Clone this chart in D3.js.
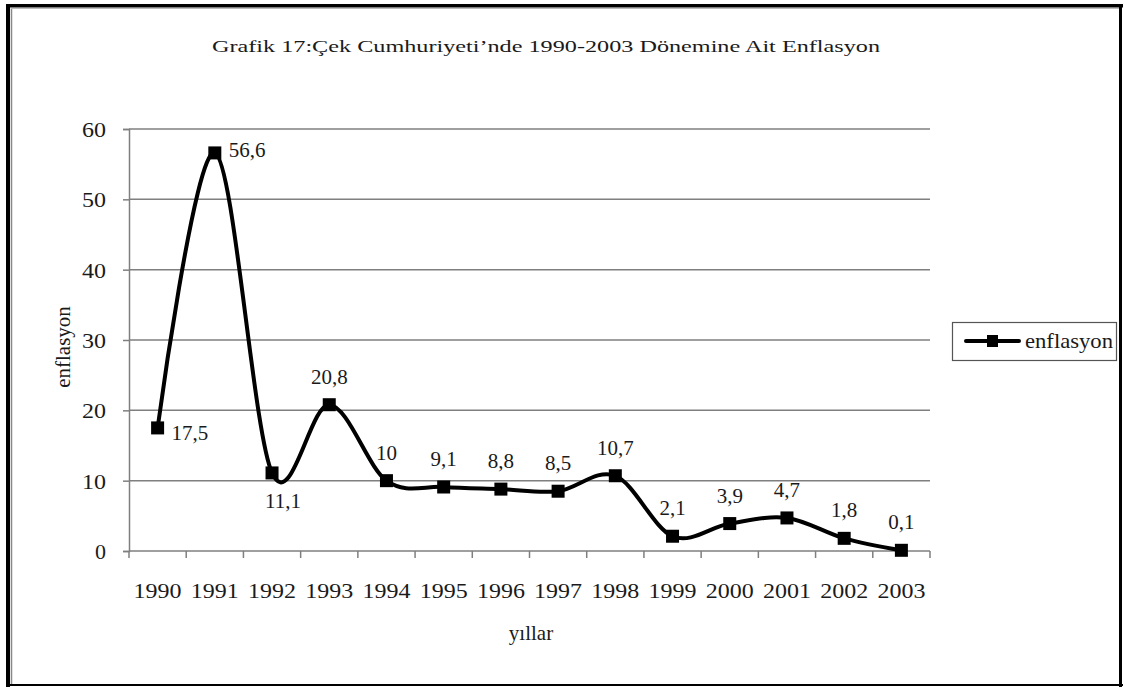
<!DOCTYPE html>
<html><head><meta charset="utf-8">
<script src="https://cdn.jsdelivr.net/npm/d3@7"></script>
<style>
html,body{margin:0;padding:0;background:#fff;}
svg text{font-family:"Liberation Serif","Tinos","Times New Roman","DejaVu Serif",serif !important;fill:#1a1a1a;}
</style></head>
<body>
<svg id="chart" width="1125" height="687"></svg>
<script>
const years = ["1990","1991","1992","1993","1994","1995","1996","1997","1998","1999","2000","2001","2002","2003"];
const inflation = [17.5,56.6,11.1,20.8,10,9.1,8.8,8.5,10.7,2.1,3.9,4.7,1.8,0.1];
const valueLabels = ["17,5","56,6","11,1","20,8","10","9,1","8,8","8,5","10,7","2,1","3,9","4,7","1,8","0,1"];
const yTicks = [0,10,20,30,40,50,60];
const titleText = "Grafik 17:Çek Cumhuriyeti’nde 1990-2003 Dönemine Ait Enflasyon";
const seriesName = "enflasyon";
const xTitle = "yıllar";
const yTitle = "enflasyon";

const FONT = "'Liberation Serif', Tinos, 'Times New Roman', 'DejaVu Serif', serif";
const svg = d3.select("#chart");
const W = 1125, H = 687;
const plot = {left:129, right:930, top:129, bottom:551};

// outer frame
svg.append("rect").attr("x",0).attr("y",0).attr("width",W).attr("height",H).attr("fill","#fff");
svg.append("rect").attr("x",6).attr("y",4).attr("width",4).attr("height",H-4).attr("fill","#000");
svg.append("rect").attr("x",6).attr("y",4).attr("width",W-8).attr("height",3.5).attr("fill","#000");
svg.append("line").attr("x1",11.5).attr("x2",11.5).attr("y1",8).attr("y2",H-3).attr("stroke","#888").attr("stroke-width",1.5);
svg.append("line").attr("x1",11).attr("x2",W-6).attr("y1",8.5).attr("y2",8.5).attr("stroke","#bbb").attr("stroke-width",1);
svg.append("rect").attr("x",W-6).attr("y",4).attr("width",3).attr("height",H-4).attr("fill","#000");
svg.append("rect").attr("x",6).attr("y",H-3).attr("width",W-8).attr("height",2).attr("fill","#000");

const x = d3.scaleBand().domain(years).range([plot.left, plot.right]).padding(0);
const y = d3.scaleLinear().domain([0,60]).range([plot.bottom, plot.top]);

// gridlines
svg.append("g").selectAll("line").data(yTicks.filter(d=>d>0)).join("line")
  .attr("x1",plot.left).attr("x2",plot.right)
  .attr("y1",d=>y(d)).attr("y2",d=>y(d))
  .attr("stroke","#7f7f7f").attr("stroke-width",1.5);

// y axis
const yAxis = d3.axisLeft(y).tickValues(yTicks).tickSize(6).tickPadding(17).tickFormat(d3.format("d"));
const gy = svg.append("g").attr("transform",`translate(${plot.left},0)`).call(yAxis);
gy.attr("font-family",FONT).attr("font-size",22);
gy.select(".domain").attr("stroke","#7f7f7f").attr("stroke-width",1.5);
gy.selectAll(".tick line").attr("stroke","#7f7f7f").attr("stroke-width",1.5);
gy.selectAll(".tick text").attr("font-size",22).attr("font-family",FONT).attr("fill","#1a1a1a").attr("dy","0.34em")
  .attr("textLength",24).attr("lengthAdjust","spacingAndGlyphs");
gy.selectAll(".tick text").filter(d=>d===0).attr("textLength",null);

// x axis (ticks at category boundaries)
svg.append("line").attr("x1",plot.left).attr("x2",plot.right).attr("y1",plot.bottom).attr("y2",plot.bottom)
  .attr("stroke","#7f7f7f").attr("stroke-width",1.5);
const boundaries = years.map(d=>x(d)).concat([x(years[years.length-1])+x.bandwidth()]);
svg.append("g").selectAll("line").data(boundaries).join("line")
  .attr("x1",d=>d).attr("x2",d=>d).attr("y1",plot.bottom).attr("y2",plot.bottom+7)
  .attr("stroke","#7f7f7f").attr("stroke-width",1.5);
svg.append("g").attr("font-family",FONT).selectAll("text").data(years).join("text")
  .attr("x",d=>x(d)+x.bandwidth()/2).attr("y",598)
  .attr("text-anchor","middle").attr("font-size",22).attr("textLength",48).attr("lengthAdjust","spacingAndGlyphs")
  .text(d=>d);

// titles
svg.append("text").attr("font-family",FONT).attr("x",546).attr("y",52).attr("text-anchor","middle")
  .attr("font-size",17).attr("textLength",668).attr("lengthAdjust","spacingAndGlyphs").text(titleText);
svg.append("text").attr("font-family",FONT).attr("x",531).attr("y",640).attr("text-anchor","middle")
  .attr("font-size",21).text(xTitle);
svg.append("text").attr("font-family",FONT).attr("transform","translate(70,347) rotate(-90)").attr("text-anchor","middle")
  .attr("font-size",21).text(yTitle);

// line
const pts = years.map((d,i)=>[x(d)+x.bandwidth()/2, y(inflation[i])]);
svg.append("path").datum(pts)
  .attr("d", d3.line().curve(d3.curveCatmullRom.alpha(0)))
  .attr("fill","none").attr("stroke","#000").attr("stroke-width",4).attr("stroke-linejoin","round");

// markers
svg.append("g").selectAll("rect").data(pts).join("rect")
  .attr("x",d=>d[0]-6.5).attr("y",d=>d[1]-6.5).attr("width",13).attr("height",13).attr("fill","#000");

// data labels
const labelPos = {0:"right",1:"right",2:"below"};
svg.append("g").attr("font-family",FONT).selectAll("text").data(pts).join("text")
  .attr("x",(d,i)=> labelPos[i]==="right" ? d[0]+14 : (labelPos[i]==="below" ? d[0]+11 : d[0]))
  .attr("y",(d,i)=> labelPos[i]==="right" ? d[1]+(i===0?12:4) : (labelPos[i]==="below" ? d[1]+35 : d[1]-21))
  .attr("text-anchor",(d,i)=> labelPos[i]==="right" ? "start" : "middle")
  .attr("font-size",21)
  .text((d,i)=>valueLabels[i]);

// legend
const lg = svg.append("g");
lg.append("rect").attr("x",952.5).attr("y",322.5).attr("width",164).attr("height",38)
  .attr("fill","#fff").attr("stroke","#555").attr("stroke-width",1.2);
lg.append("line").attr("x1",966).attr("x2",1019).attr("y1",341).attr("y2",341).attr("stroke","#000").attr("stroke-width",4).attr("stroke-linecap","round");
lg.append("rect").attr("x",987).attr("y",335).attr("width",11).attr("height",12).attr("fill","#000");
lg.append("text").attr("font-family",FONT).attr("x",1025).attr("y",348).attr("font-size",21).attr("textLength",88).attr("lengthAdjust","spacingAndGlyphs").text(seriesName);
</script>
</body></html>
